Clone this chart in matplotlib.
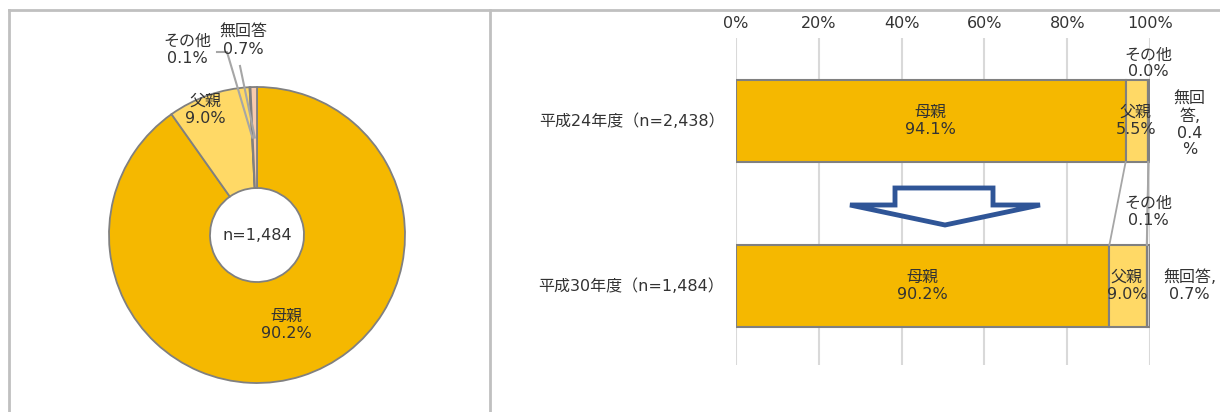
import numpy as np
import matplotlib
matplotlib.use("Agg")
import matplotlib.pyplot as plt
from matplotlib.patches import Polygon
from matplotlib.lines import Line2D

plt.rcParams['font.family'] = ['DejaVu Sans', 'Noto Sans CJK JP']

# ---- data ----
pie_categories = ['母親', '父親', 'その他', '無回答']
pie_values = [90.2, 9.0, 0.1, 0.7]
pie_n_label = 'n=1,484'

bar_years = ['平成24年度（n=2,438）', '平成30年度（n=1,484）']
bar_categories = ['母親', '父親', 'その他', '無回答']
bar_h24 = [94.1, 5.5, 0.0, 0.4]
bar_h30 = [90.2, 9.0, 0.1, 0.7]
x_ticks = [0, 20, 40, 60, 80, 100]
x_tick_labels = ['0%', '20%', '40%', '60%', '80%', '100%']

W, H = 1220, 412
fig = plt.figure(figsize=(W / 100, H / 100), dpi=100)
fig.patch.set_facecolor('white')

def px(x, y):
    return x / W, 1 - y / H

pie_colors = ['#F5B800', '#FFD966', '#A5A5A5', '#F8CBAD']
bar_colors = ['#F5B800', '#FFD966', '#A5A5A5', '#D0CECE']
edge = '#808080'
txt = '#333333'
FS = 11.5

# ---- panel borders ----
border = '#C0C0C0'
fig.add_artist(Line2D([9 / W, 1], [1 - 10 / H] * 2, color=border, lw=2, transform=fig.transFigure))
fig.add_artist(Line2D([9 / W] * 2, [0, 1 - 10 / H], color=border, lw=2, transform=fig.transFigure))
fig.add_artist(Line2D([490 / W] * 2, [0, 1 - 10 / H], color=border, lw=2, transform=fig.transFigure))

# ---- donut ----
cx, cy, R = 257, 235, 148
half = 150
axp = fig.add_axes([(cx - half) / W, 1 - (cy + half) / H, 2 * half / W, 2 * half / H])
lim = half / R
axp.axis('off')
inner = 47 / R
wedges, _ = axp.pie(pie_values, colors=pie_colors, startangle=90, counterclock=False,
                    radius=1, wedgeprops=dict(width=1 - inner, edgecolor=edge, linewidth=1.3))
axp.set_xlim(-lim, lim)
axp.set_ylim(-lim, lim)
axp.set_aspect('equal')
axp.text(0, 0, pie_n_label, ha='center', va='center', fontsize=FS, color=txt)

# labels (data coords in donut axes: 1 unit = R px)
def d(xp, yp):
    return (xp - cx) / R, (cy - yp) / R

pie_label_pos = [(286, 325), (205, 110), (187, 50), (243, 41)]
for name, v, (lx, ly) in zip(pie_categories, pie_values, pie_label_pos):
    x, y = d(lx, ly)
    axp.text(x, y, f'{name}\n{v:.1f}%', ha='center', va='center', fontsize=FS,
             color=txt, linespacing=1.15, clip_on=False)

# leader lines for small slices
cum = np.cumsum([0] + pie_values)
mid_r = (1 + inner) / 2
leader_start = {2: (217, 52), 3: (240, 66)}
for i, (sx, sy) in leader_start.items():
    frac = (cum[i] + cum[i + 1]) / 2 / 100
    ang = np.deg2rad(90 - 360 * frac)
    ex, ey = mid_r * np.cos(ang), mid_r * np.sin(ang)
    x0, y0 = d(sx, sy)
    if i == 2:
        x1, y1 = d(sx + 10, sy)
        axp.plot([x0, x1, ex], [y0, y1, ey], color='#A6A6A6', lw=1.5, clip_on=False)
    else:
        axp.plot([x0, ex], [y0, ey], color='#A6A6A6', lw=1.5, clip_on=False)

# ---- bar chart ----
left, right = 736, 1150
top, bot = 38, 365
axb = fig.add_axes([left / W, 1 - bot / H, (right - left) / W, (bot - top) / H])
axb.set_xlim(0, 100)
axb.set_ylim(1.479, -0.503)
for s in axb.spines.values():
    s.set_visible(False)
axb.xaxis.tick_top()
axb.set_xticks(x_ticks)
axb.set_xticklabels(x_tick_labels, fontsize=FS, color=txt)
axb.tick_params(axis='x', length=0, pad=5)
axb.set_yticks([])
axb.grid(axis='x', color='#D9D9D9', lw=1.5)
axb.set_axisbelow(True)

bh = 0.5
rows = [bar_h24, bar_h30]
for yi, vals in enumerate(rows):
    leftv = 0
    for ci, v in enumerate(vals):
        axb.barh(yi, v, left=leftv, height=bh, color=bar_colors[ci], edgecolor=edge, linewidth=1.5)
        leftv += v
    axb.text(-2.8, yi, bar_years[yi], ha='right', va='center', fontsize=FS, color=txt, clip_on=False)

# series lines
c24 = np.cumsum(bar_h24)
c30 = np.cumsum(bar_h30)
for a, b in zip(c24[:-1], c30[:-1]):
    axb.plot([a, b], [0 + bh / 2, 1 - bh / 2], color='#A6A6A6', lw=1.3)

# bar labels
ls = 1.15
axb.text(bar_h24[0] / 2, 0, f'{bar_categories[0]}\n{bar_h24[0]:.1f}%', ha='center', va='center', fontsize=FS, color=txt, linespacing=ls)
axb.text(c24[0] + bar_h24[1] / 2 - 0.3, 0, f'{bar_categories[1]}\n{bar_h24[1]:.1f}%', ha='center', va='center', fontsize=FS, color=txt, linespacing=ls)
axb.text(99.6, -0.35, f'{bar_categories[2]}\n{bar_h24[2]:.1f}%', ha='center', va='center', fontsize=FS, color=txt, linespacing=ls, clip_on=False)
axb.text(109.6, 0.02, f'無回\n答,\n{bar_h24[3]:.1f}\n%', ha='center', va='center', fontsize=FS, color=txt, linespacing=ls, clip_on=False)

axb.text(bar_h30[0] / 2, 1, f'{bar_categories[0]}\n{bar_h30[0]:.1f}%', ha='center', va='center', fontsize=FS, color=txt, linespacing=ls)
axb.text(c30[0] + bar_h30[1] / 2 - 0.3, 1, f'{bar_categories[1]}\n{bar_h30[1]:.1f}%', ha='center', va='center', fontsize=FS, color=txt, linespacing=ls)
axb.text(99.6, 0.55, f'{bar_categories[2]}\n{bar_h30[2]:.1f}%', ha='center', va='center', fontsize=FS, color=txt, linespacing=ls, clip_on=False)
axb.text(109.6, 1.0, f'{bar_categories[3]},\n{bar_h30[3]:.1f}%', ha='center', va='center', fontsize=FS, color=txt, linespacing=ls, clip_on=False)

# ---- decorative arrow ----
arrow_px = [(895, 188), (993, 188), (993, 205), (1040, 205), (945, 225), (850, 205), (895, 205)]
arrow = Polygon([px(x, y) for x, y in arrow_px], closed=True, transform=fig.transFigure,
                facecolor='white', edgecolor='#2F5597', lw=3.5, joinstyle='miter', zorder=5)
fig.add_artist(arrow)

fig.savefig('out.png', dpi=100)
